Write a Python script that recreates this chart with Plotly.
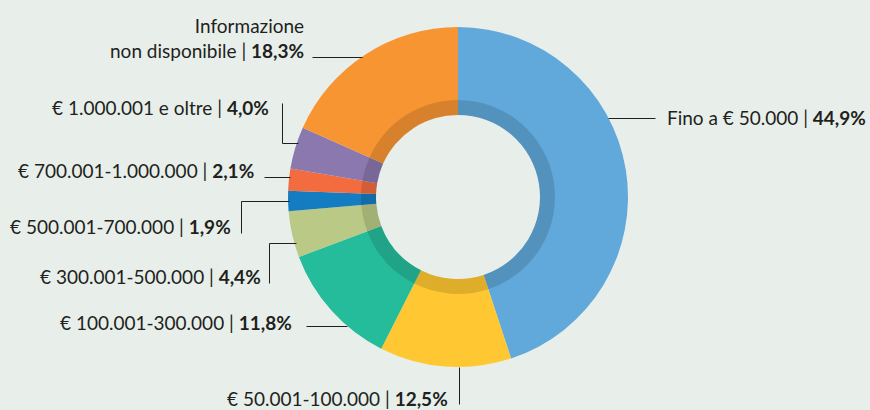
import plotly.graph_objects as go

# Income bands and their shares (%)
categories = [
    "Fino a € 50.000",
    "€ 50.001-100.000",
    "€ 100.001-300.000",
    "€ 300.001-500.000",
    "€ 500.001-700.000",
    "€ 700.001-1.000.000",
    "€ 1.000.001 e oltre",
    "Informazione<br>non disponibile",
]
shares = [44.9, 12.5, 11.8, 4.4, 1.9, 2.1, 4.0, 18.3]
share_labels = ["44,9%", "12,5%", "11,8%", "4,4%", "1,9%", "2,1%", "4,0%", "18,3%"]

colors = ["#61a8db", "#ffc832", "#25bc9b", "#bbc987",
          "#147cc0", "#f26c40", "#8b78ae", "#f79533"]

W, H = 870, 410
BG = "#e8efeb"
FONT = "Lato"
INK = "#231f20"

def px(x):
    return x / W

def py(y):
    return 1 - y / H

cx, cy = 458, 197        # donut centre (px)
r_out, r_hole, r_ring = 170, 82, 97

fig = go.Figure()

# main donut
fig.add_trace(go.Pie(
    values=shares, labels=categories, sort=False, direction="clockwise",
    rotation=0, hole=r_hole / r_out,
    marker=dict(colors=colors, line=dict(width=0)),
    textinfo="none", hoverinfo="skip", showlegend=False,
    domain=dict(x=[px(cx - r_out), px(cx + r_out)], y=[py(cy + r_out), py(cy - r_out)]),
))

# darker inner band
fig.add_trace(go.Pie(
    values=shares, labels=categories, sort=False, direction="clockwise",
    rotation=0, hole=r_hole / r_ring,
    marker=dict(colors=["rgba(0,0,0,0.13)"] * len(shares), line=dict(width=0)),
    textinfo="none", hoverinfo="skip", showlegend=False,
    domain=dict(x=[px(cx - r_ring), px(cx + r_ring)], y=[py(cy + r_ring), py(cy - r_ring)]),
))

# label placement: (text anchor x, text y, xanchor, leader polyline in px)
placements = [
    (665, 117, "left",  [(608, 118), (655, 118)]),
    (450, 398, "right", [(459, 367), (459, 404)]),
    (294, 322, "right", [(306, 326), (347, 326)]),
    (263, 276, "right", [(269, 283), (269, 243), (296, 243)]),
    (233, 226, "right", [(241, 233), (241, 201), (289, 201)]),
    (256, 171, "right", [(264, 177), (290, 177)]),
    (271, 107, "right", [(282, 103), (282, 143), (298, 143)]),
    (306, 38,  "right", [(312, 57), (362, 57)]),
]

annotations = []
shapes = []
for cat, lab, (tx, ty, anchor, pts) in zip(categories, share_labels, placements):
    annotations.append(dict(
        x=px(tx), y=py(ty), xref="paper", yref="paper",
        xanchor=anchor, yanchor="middle", align="right" if anchor == "right" else "left",
        text=f"{cat} | <b>{lab}</b>", showarrow=False,
        font=dict(family=FONT, size=19, color=INK),
    ))
    # half-pixel offset keeps the 1px leader lines crisp
    path = " ".join(("M" if i == 0 else "L") + f"{px(x + 0.5)},{py(y + 0.5)}"
                    for i, (x, y) in enumerate(pts))
    shapes.append(dict(type="path", xref="paper", yref="paper", path=path,
                       line=dict(color=INK, width=1)))

fig.update_layout(
    width=W, height=H,
    margin=dict(l=0, r=0, t=0, b=0),
    paper_bgcolor=BG, plot_bgcolor=BG,
    annotations=annotations, shapes=shapes,
)

fig.write_html("out.html")
